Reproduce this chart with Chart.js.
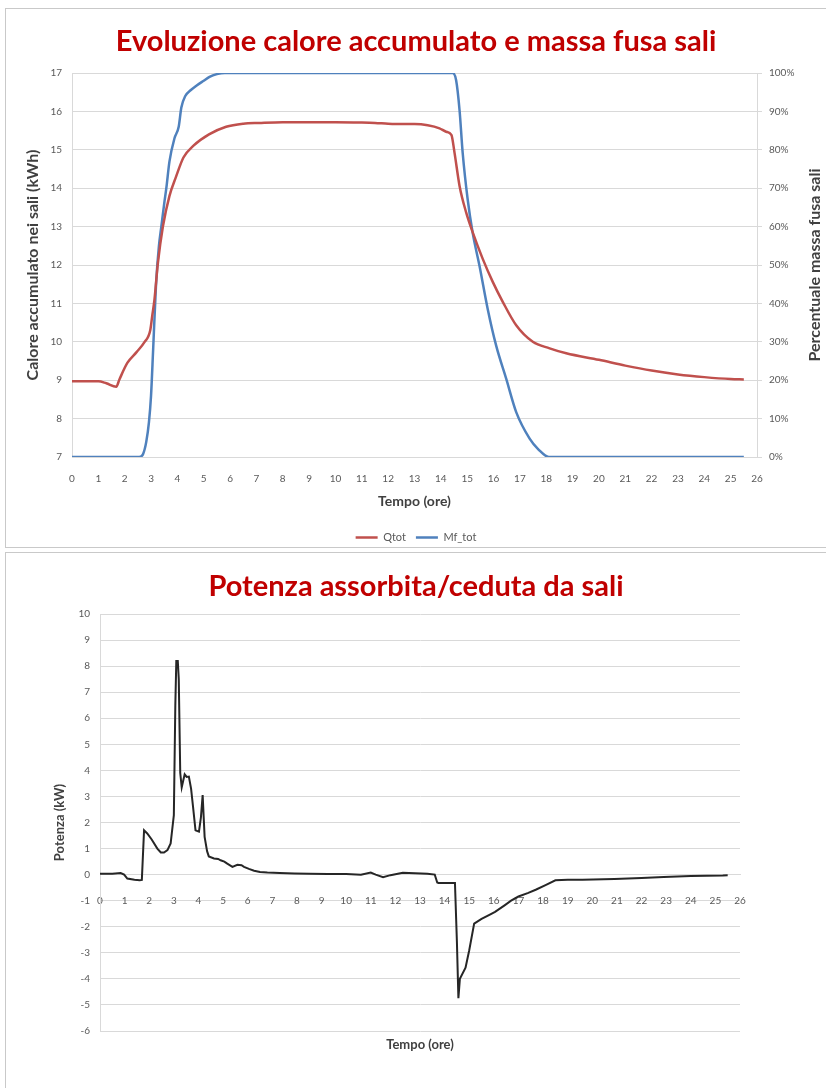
<!DOCTYPE html>
<html><head><meta charset="utf-8">
<script src="https://cdn.jsdelivr.net/npm/chart.js@4"></script>
<style>
html,body{margin:0;padding:0;background:#fff;}
body{width:826px;height:1088px;position:relative;overflow:hidden;}
.frame{position:absolute;border:1px solid #c9c9c9;box-sizing:border-box;}
.wrap{position:absolute;}
</style></head><body>
<div class="frame" style="left:5px;top:8px;width:830px;height:540px"></div>
<div class="frame" style="left:5px;top:552px;width:830px;height:545px"></div>
<div class="wrap" style="left:6px;top:9px;width:820px;height:544px"><canvas id="c1"></canvas></div>
<div class="wrap" style="left:6px;top:553px;width:820px;height:535px"><canvas id="c2"></canvas></div>
<script>
// ---- Chart 1: Evoluzione calore accumulato e massa fusa sali ----
const qtotTime = [0,0.5,1,1.3,1.68,1.8,2.1,2.45,2.75,2.97,3.05,3.13,3.26,3.45,3.7,3.95,4.23,4.6,5.2,5.85,6.5,7.1,8,9,10,11,11.5,12,12.5,13,13.5,13.95,14.2,14.4,14.52,14.71,14.96,15.21,15.59,15.97,16.35,16.86,17.49,18.13,18.76,20,21,22,23,24,25,25.5];
const qtotValues = [8.97,8.97,8.97,8.92,8.83,9.02,9.45,9.73,9.99,10.3,10.7,11.1,12.05,13.0,13.8,14.3,14.8,15.1,15.4,15.6,15.68,15.7,15.72,15.72,15.72,15.71,15.7,15.68,15.67,15.67,15.64,15.56,15.47,15.39,14.92,14.06,13.37,12.85,12.16,11.56,11.04,10.43,10.0,9.83,9.7,9.53,9.38,9.25,9.15,9.08,9.03,9.02];
const mfTime = [0,1,2,2.55,2.7,2.82,2.92,3.0,3.08,3.19,3.3,3.39,3.5,3.58,3.7,3.89,4.05,4.15,4.3,4.5,4.72,5.0,5.22,5.5,5.8,6,8,10,12,14,14.45,14.58,14.71,14.83,15.02,15.21,15.47,15.78,16.1,16.48,16.86,17.37,17.7,18.1,19,20,22,24,25.5];
const mfValues = [0,0,0,0,0.8,4,9,16,28,45,55,60,66,70,77,83,86,91,94,95.5,96.7,98,99,99.7,100,100,100,100,100,100,100,98.1,90.3,79.1,67,58.3,49.7,38.5,29,20.4,11.7,4.8,2,0,0,0,0,0,0];
const seriesNames1 = ['Qtot','Mf_tot'];
const title1 = 'Evoluzione calore accumulato e massa fusa sali';
const yLeftTitle = 'Calore accumulato nei sali (kWh)';
const yRightTitle = 'Percentuale massa fusa sali';
const xTitle = 'Tempo (ore)';

// ---- Chart 2: Potenza assorbita/ceduta da sali ----
const potTime = [0,0.5,0.84,0.98,1.11,1.4,1.61,1.7,1.79,1.92,2.1,2.33,2.47,2.6,2.74,2.87,3.0,3.06,3.1,3.16,3.2,3.26,3.32,3.38,3.44,3.52,3.61,3.7,3.78,3.88,4.02,4.1,4.17,4.25,4.35,4.42,4.63,4.8,4.9,5.05,5.17,5.38,5.58,5.75,5.85,6.05,6.26,6.5,6.8,7.3,7.9,8.5,9.25,10,10.6,11,11.2,11.5,11.8,12.3,12.8,13.3,13.6,13.7,13.75,14.0,14.42,14.5,14.56,14.62,14.85,15.0,15.2,15.5,15.8,16.05,16.45,16.7,17.0,17.4,17.7,18.1,18.5,19.0,19.6,20.9,22.0,22.9,24.0,25.3,25.5];
const potValues = [0.03,0.03,0.06,0.0,-0.15,-0.2,-0.22,-0.2,1.7,1.58,1.35,1.0,0.85,0.85,0.94,1.2,2.28,6.5,8.2,8.2,7.5,3.9,3.35,3.6,3.85,3.75,3.76,3.3,2.6,1.7,1.65,2.2,3.05,1.45,0.9,0.7,0.62,0.6,0.55,0.5,0.42,0.3,0.38,0.36,0.3,0.22,0.15,0.1,0.08,0.06,0.04,0.03,0.02,0.02,0.0,0.08,0.0,-0.1,-0.02,0.07,0.05,0.03,0.0,-0.3,-0.32,-0.32,-0.32,-2.6,-4.74,-4.0,-3.57,-2.9,-1.88,-1.7,-1.55,-1.43,-1.17,-1.0,-0.84,-0.7,-0.58,-0.4,-0.22,-0.2,-0.2,-0.17,-0.13,-0.09,-0.05,-0.03,-0.02];
const title2 = 'Potenza assorbita/ceduta da sali';
const yTitle2 = 'Potenza (kW)';

Chart.defaults.font.family = "Lato, 'Open Sans', sans-serif";
Chart.defaults.color = '#595959';

const pts = (xs, ys) => xs.map((t, i) => ({x: t, y: ys[i]}));
const titleFont = {size: 29, weight: 'bold'};
const axisTitleFont1 = {size: 16, weight: 'bold'};
const xTitleFont1 = {size: 14, weight: 'bold'};
const axisTitleFont2 = {size: 13, weight: 'bold'};
const tickFont = {size: 10};
const gridCol = '#d9d9d9';

const rightTitle = {
  id: 'rightTitle',
  afterDraw(chart) {
    const {ctx, chartArea} = chart;
    const yr = chart.scales.yR;
    ctx.save();
    ctx.translate(yr.right - 11, (chartArea.top + chartArea.bottom) / 2);
    ctx.rotate(-Math.PI / 2);
    ctx.font = "bold 16px Lato, 'Open Sans', sans-serif";
    ctx.fillStyle = '#404040';
    ctx.textAlign = 'center';
    ctx.textBaseline = 'middle';
    ctx.fillText(yRightTitle, 0, 0);
    ctx.restore();
  }
};

new Chart(document.getElementById('c1'), {
  type: 'line',
  data: {datasets: [
    {label: seriesNames1[0], data: pts(qtotTime, qtotValues), borderColor: '#C0504D', backgroundColor: '#C0504D',
     borderWidth: 2.5, pointRadius: 0, cubicInterpolationMode: 'monotone', yAxisID: 'y'},
    {label: seriesNames1[1], data: pts(mfTime, mfValues), borderColor: '#4F81BD', backgroundColor: '#4F81BD',
     borderWidth: 2.5, pointRadius: 0, cubicInterpolationMode: 'monotone', yAxisID: 'yR'}
  ]},
  options: {
    responsive: true, maintainAspectRatio: false, animation: false,
    layout: {padding: 0},
    plugins: {
      title: {display: true, text: title1, color: '#C00000', font: titleFont, padding: {top: 15.6, bottom: 13.6}},
      legend: {position: 'bottom', labels: {usePointStyle: true, pointStyle: 'line', pointStyleWidth: 22, font: {size: 11}, padding: 10, color: '#595959'}},
      tooltip: {enabled: false}
    },
    scales: {
      x: {type: 'linear', min: 0, max: 26,
          ticks: {stepSize: 1, autoSkip: false, maxRotation: 0, font: tickFont, padding: 8},
          grid: {display: false}, border: {display: false},
          title: {display: true, text: xTitle, font: xTitleFont1, color: '#404040', padding: {top: 0, bottom: 12.6}},
          afterFit: s => { s.height = 65; }},
      y: {min: 7, max: 17, ticks: {stepSize: 1, font: tickFont, padding: 10},
          grid: {color: gridCol, drawTicks: false}, border: {color: gridCol},
          title: {display: true, text: yLeftTitle, font: axisTitleFont1, color: '#404040', padding: {top: 17, bottom: 0}},
          afterFit: s => { s.width = 66; }},
      yR: {position: 'right', min: 0, max: 100,
          ticks: {stepSize: 10, callback: v => v + '%', font: tickFont, padding: 7},
          grid: {drawOnChartArea: false, color: gridCol, tickLength: 5}, border: {color: gridCol},
          afterFit: s => { s.width = 69; }}
    }
  },
  plugins: [rightTitle]
});

new Chart(document.getElementById('c2'), {
  type: 'line',
  data: {datasets: [
    {label: 'Potenza', data: pts(potTime, potValues), borderColor: '#262626', backgroundColor: '#262626',
     borderWidth: 2, pointRadius: 0, tension: 0, xAxisID: 'x', yAxisID: 'y'}
  ]},
  options: {
    responsive: true, maintainAspectRatio: false, animation: false,
    layout: {padding: 0},
    plugins: {
      title: {display: true, text: title2, color: '#C00000', font: titleFont, padding: {top: 16.6, bottom: 9.6}},
      legend: {display: false},
      tooltip: {enabled: false}
    },
    scales: {
      x: {type: 'linear', position: 'bottom', min: 0, max: 26,
          ticks: {display: false}, grid: {display: false}, border: {display: false},
          title: {display: true, text: xTitle, font: axisTitleFont2, color: '#404040', padding: {top: 0, bottom: 35}},
          afterFit: s => { s.height = 57; }},
      x2: {type: 'linear', axis: 'x', position: {y: 0}, min: 0, max: 26,
          ticks: {stepSize: 1, autoSkip: false, maxRotation: 0, font: tickFont, padding: 12},
          grid: {display: false}, border: {display: true, color: gridCol}},
      y: {min: -6, max: 10, ticks: {stepSize: 1, font: tickFont, padding: 10},
          grid: {color: gridCol, drawTicks: false}, border: {color: gridCol},
          title: {display: true, text: yTitle2, font: axisTitleFont2, color: '#404040', padding: {top: 46, bottom: 0}},
          afterFit: s => { s.width = 94; }},
      yPad: {position: 'right', min: 0, max: 1, display: true,
          ticks: {display: false}, grid: {display: false}, border: {display: false},
          afterFit: s => { s.width = 86; }}
    }
  }
});
</script>
</body></html>
